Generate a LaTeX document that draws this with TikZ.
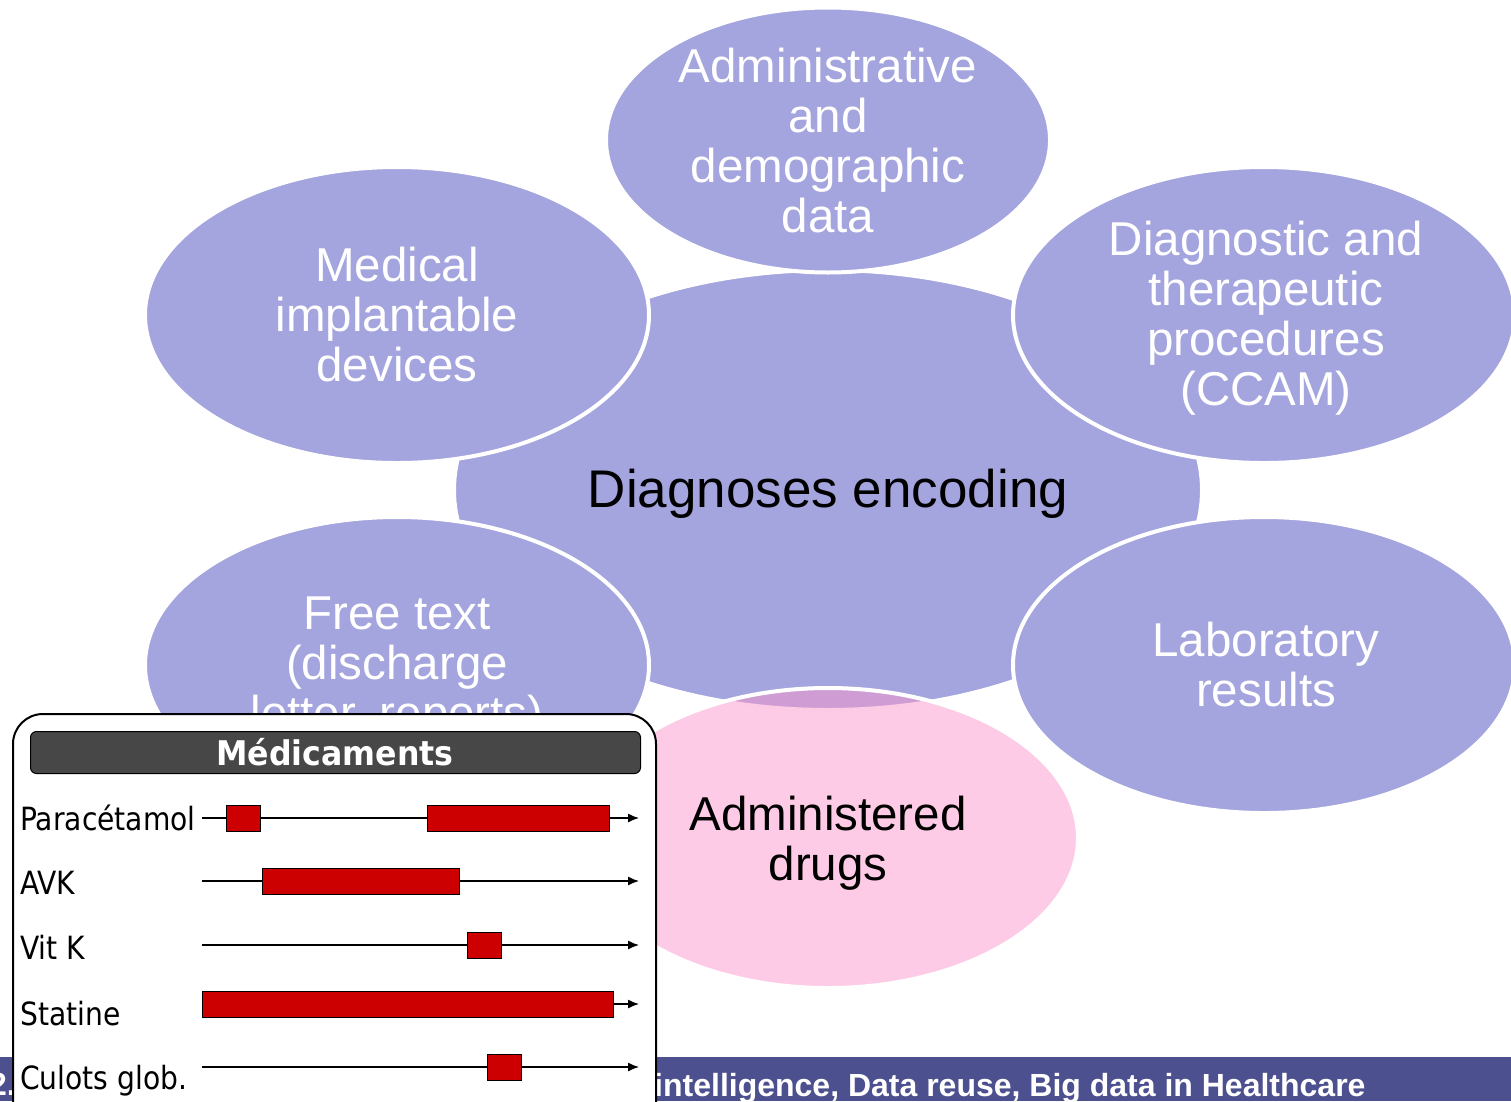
\documentclass[tikz,border=0pt]{standalone}
\usepackage{fontspec}
\setmainfont{Liberation Sans}
\newfontfamily\tah[FakeStretch=0.88,BoldFeatures={FakeStretch=0.93}]{DejaVu Sans}
\usetikzlibrary{shapes.geometric,arrows.meta}
\definecolor{lav}{RGB}{164,164,222}
\definecolor{pinkf}{RGB}{251,151,203}
\definecolor{barc}{RGB}{77,80,143}
\definecolor{drug}{RGB}{204,0,0}
\definecolor{hdr}{RGB}{71,71,71}
\tikzset{
  bub/.style={ellipse, fill=lav, draw=white, line width=4pt, inner sep=0pt},
  pinkbub/.style={ellipse, fill=pinkf, fill opacity=0.5, draw=white, draw opacity=1, line width=4pt, inner sep=0pt},
  wlbl/.style={align=center, text=white, font=\fontsize{47.5}{50}\selectfont, inner sep=0pt},
  blbl/.style={align=center, text=black, font=\fontsize{47.5}{50}\selectfont, inner sep=0pt},
  panel/.style={draw=black, line width=2pt, fill=white, rounded corners=30pt, anchor=north west, inner sep=0pt},
  hdrbox/.style={draw=black, line width=1pt, fill=hdr, rounded corners=6pt, anchor=north west, inner sep=0pt},
  rowlbl/.style={anchor=base west, inner sep=0pt, font=\tah\fontsize{32}{34}\selectfont},
  tl/.style={line width=1.3pt, -{Latex[length=11pt,width=9pt]}},
  rbox/.style={draw=black, line width=1.3pt, fill=drug, anchor=north west, inner sep=0pt, minimum height=26pt},
}
\begin{document}
\begin{tikzpicture}[x=1pt,y=-1pt]
\useasboundingbox (0,0) rectangle (1511,1101);
% center
\node[bub, minimum width=748pt, minimum height=440pt] (ctr) at (828,490) {};
\node[blbl, font=\fontsize{53}{56}\selectfont] (ctrt) at (828,494) {Diagnoses encoding};
% outer ellipses
\node[bub, minimum width=444pt, minimum height=265pt] (adm) at (828,140) {};
\node[wlbl] (admt) at (828,141) {Administrative\\and\\demographic\\data};
\node[bub, minimum width=504pt, minimum height=296pt] (med) at (397,315) {};
\node[wlbl] (medt) at (397,315) {Medical\\implantable\\devices};
\node[bub, minimum width=502pt, minimum height=296pt] (dia) at (1264,315) {};
\node[wlbl] (diat) at (1266,318) {Diagnostic and\\therapeutic\\procedures\\(CCAM)};
\node[bub, minimum width=504pt, minimum height=296pt] (fre) at (397,665) {};
\node[wlbl] (fret) at (397,668) {Free text\\(discharge\\letter, reports)};
\node[bub, minimum width=502pt, minimum height=296pt] (lab) at (1264,665) {};
\node[wlbl] (labt) at (1266,665) {Laboratory\\results};
% drugs
\node[pinkbub, minimum width=500pt, minimum height=300pt] (drg) at (828,838) {};
\node[blbl] (drgt) at (828,843) {Administered\\drugs};
% bottom bar
\fill[barc] (0,1057) rectangle (1511,1101);
\node[anchor=base east, inner sep=0pt, text=white, font=\bfseries\fontsize{32}{34}\selectfont] (barl) at (16,1095) {2.};
\node[anchor=base west, inner sep=0pt, text=white, font=\bfseries\fontsize{32}{34}\selectfont] (bart) at (654,1096) {intelligence, Data reuse, Big data in Healthcare};
% panel
\node[panel, minimum width=643pt, minimum height=420pt] (pan) at (12,713) {};
\node[hdrbox, minimum width=610pt, minimum height=42pt] (hd) at (30,731) {};
\node[text=white, inner sep=0pt, font=\tah\bfseries\fontsize{34}{36}\selectfont] (hdt) at (335,752) {Médicaments};
% rows
\node[rowlbl] (l1) at (20,830) {Paracétamol};
\node[rowlbl] (l2) at (20,894) {AVK};
\node[rowlbl] (l3) at (20,959) {Vit K};
\node[rowlbl] (l4) at (20,1025) {Statine};
\node[rowlbl] (l5) at (20,1089) {Culots glob.};
\coordinate (s1) at (202,818); \coordinate (e1) at (639,818);
\coordinate (s2) at (202,881); \coordinate (e2) at (639,881);
\coordinate (s3) at (202,945); \coordinate (e3) at (639,945);
\coordinate (s4) at (202,1004); \coordinate (e4) at (639,1004);
\coordinate (s5) at (202,1067); \coordinate (e5) at (639,1067);
\draw[tl] (s1) -- (e1);
\draw[tl] (s2) -- (e2);
\draw[tl] (s3) -- (e3);
\draw[tl] (s4) -- (e4);
\draw[tl] (s5) -- (e5);
\node[rbox, minimum width=34pt] (b1a) at (226,805) {};
\node[rbox, minimum width=182pt] (b1b) at (427,805) {};
\node[rbox, minimum width=197pt] (b2) at (262,868) {};
\node[rbox, minimum width=34pt] (b3) at (467,932) {};
\node[rbox, minimum width=411pt] (b4) at (202,991) {};
\node[rbox, minimum width=34pt] (b5) at (487,1054) {};
\end{tikzpicture}
\end{document}
